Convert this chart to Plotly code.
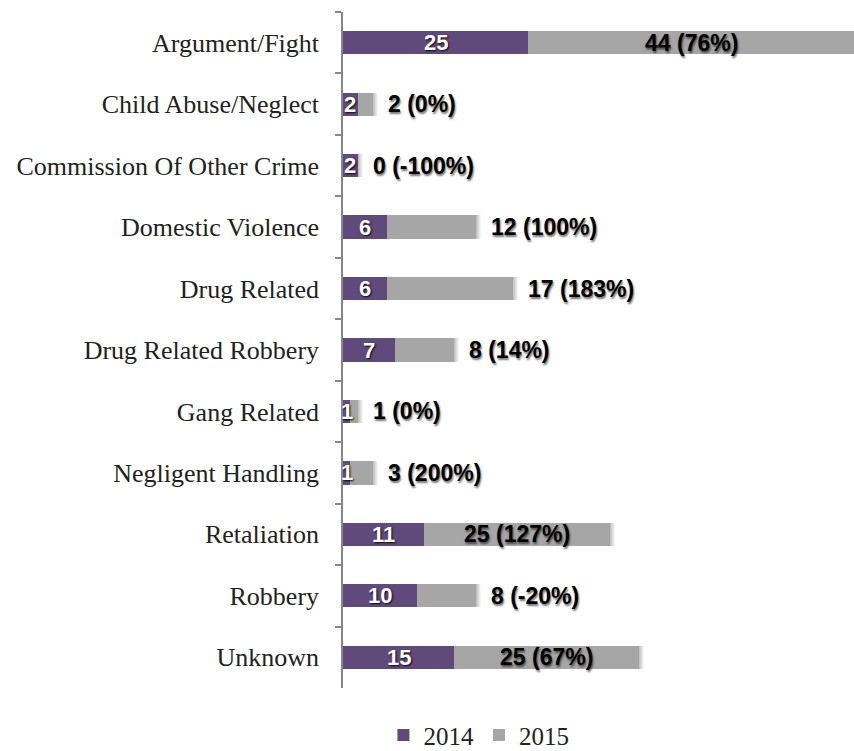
import plotly.graph_objects as go

categories = ["Argument/Fight", "Child Abuse/Neglect", "Commission Of Other Crime",
              "Domestic Violence", "Drug Related", "Drug Related Robbery",
              "Gang Related", "Negligent Handling", "Retaliation", "Robbery", "Unknown"]
v2014 = [25, 2, 2, 6, 6, 7, 1, 1, 11, 10, 15]
v2015 = [44, 2, 0, 12, 17, 8, 1, 3, 25, 8, 25]
series_names = ["2014", "2015"]

PURPLE = "#604A7B"
GRAY = "#A6A6A6"
LABEL_FONT = "Liberation Sans, Arial, sans-serif"
SERIF = "Liberation Serif, serif"

W, H = 854, 751
ML, MR, MT, MB = 343, 0, 12, 63
PW, PH = W - ML - MR, H - MT - MB
XMAX = 69
N = len(categories)
BARGAP = 0.62

totals = [a + b for a, b in zip(v2014, v2015)]

fig = go.Figure()

# soft drop shadows (offset copies of the full bars, drawn underneath)
shadows = [(1, 2, "rgba(0,0,0,0.06)"), (2, 3, "rgba(0,0,0,0.06)"), (3, 4, "rgba(0,0,0,0.05)"),
           (4, 5, "rgba(0,0,0,0.05)"), (5, 6, "rgba(0,0,0,0.04)")]
layout_axes = {}
for i, (sx, sy, col) in enumerate(shadows, start=1):
    xa = "x" if i == 1 else f"x{i}"
    ya = "y" if i == 1 else f"y{i}"
    fig.add_trace(go.Bar(y=categories, x=totals, orientation="h", xaxis=xa, yaxis=ya,
                         marker=dict(color=col, line=dict(width=0)), showlegend=False,
                         hoverinfo="skip"))
    xkey = "xaxis" if i == 1 else f"xaxis{i}"
    ykey = "yaxis" if i == 1 else f"yaxis{i}"
    layout_axes[xkey] = dict(domain=[sx / PW, 1], range=[0, XMAX * (PW - sx) / PW],
                             visible=False, anchor=ya)
    layout_axes[ykey] = dict(domain=[0, 1 - sy / PH],
                             range=[N - 0.5, -0.5 + sy * N / PH],
                             categoryorder="array", categoryarray=categories,
                             visible=False, anchor=xa)

m = len(shadows) + 1
xm, ym = f"x{m}", f"y{m}"
fig.add_trace(go.Bar(y=categories, x=v2014, orientation="h", name=series_names[0],
                     xaxis=xm, yaxis=ym, marker=dict(color=PURPLE, line=dict(width=0))))
fig.add_trace(go.Bar(y=categories, x=v2015, orientation="h", name=series_names[1],
                     xaxis=xm, yaxis=ym, marker=dict(color=GRAY, line=dict(width=0))))

layout_axes[f"xaxis{m}"] = dict(domain=[0, 1], range=[0, XMAX], visible=False, anchor=ym)
layout_axes[f"yaxis{m}"] = dict(domain=[0, 1], range=[N - 0.5, -0.5], anchor=xm,
                                categoryorder="array", categoryarray=categories,
                                showline=True, linecolor="#888", linewidth=1.5,
                                ticks="outside", ticklen=6, tickcolor="#888", tickwidth=1.5,
                                tickson="boundaries", showgrid=False, ticklabelstandoff=17,
                                tickfont=dict(family=SERIF, size=26, color="#222"))

annotations = []
for cat, a, b in zip(categories, v2014, v2015):
    annotations.append(dict(x=a / 2, y=cat, xref=xm, yref=ym, text=str(a), showarrow=False,
                            xanchor="center", yanchor="middle",
                            font=dict(family=LABEL_FONT, size=22, color="white", weight="bold",
                                      shadow="1px 1px 2px rgba(0,0,0,0.9)")))
    pct = round((b - a) / a * 100)
    txt = f"{b} ({pct}%)"
    fnt = dict(family=LABEL_FONT, size=23, color="black", weight="bold",
               shadow="1px 2px 2px rgba(0,0,0,0.55)")
    if b >= 20:
        annotations.append(dict(x=a + b / 2, y=cat, xref=xm, yref=ym, text=txt, showarrow=False,
                                xanchor="center", yanchor="middle", font=fnt))
    else:
        annotations.append(dict(x=a + b, y=cat, xref=xm, yref=ym, text=txt, showarrow=False,
                                xanchor="left", yanchor="middle", xshift=13, font=fnt))

fig.update_layout(
    width=W, height=H,
    barmode="stack", bargap=BARGAP,
    margin=dict(l=ML, r=MR, t=MT, b=MB, autoexpand=False),
    plot_bgcolor="rgba(0,0,0,0)", paper_bgcolor="white",
    annotations=annotations,
    showlegend=True,
    legend=dict(orientation="h", x=0.266, xanchor="center", y=-0.07, yanchor="middle",
                font=dict(family=SERIF, size=25, color="#222"), itemwidth=30,
                traceorder="normal"),
    **layout_axes,
)

fig.write_html(
    "out.html",
    config={"displayModeBar": False},
    post_script="document.body.style.margin='0';document.body.style.overflow='hidden';"
                "Plotly.relayout('{plot_id}', {width: 854, height: 751});",
)
